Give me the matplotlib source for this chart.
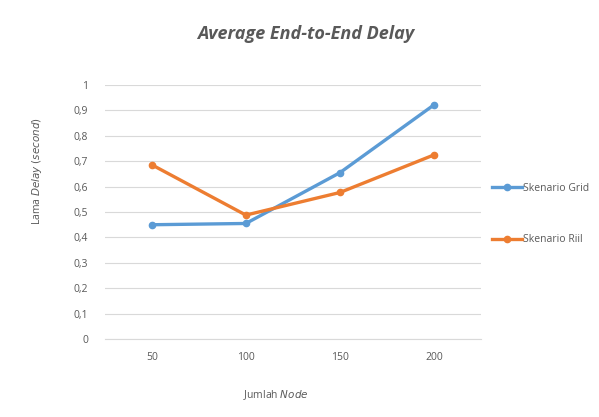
import matplotlib
matplotlib.use("Agg")
import matplotlib.pyplot as plt

categories = ["50", "100", "150", "200"]
grid_values = [0.45, 0.455, 0.655, 0.922]
riil_values = [0.686, 0.488, 0.577, 0.725]
y_ticks = [0, 0.1, 0.2, 0.3, 0.4, 0.5, 0.6, 0.7, 0.8, 0.9, 1]
y_tick_labels = ["0", "0,1", "0,2", "0,3", "0,4", "0,5", "0,6", "0,7", "0,8", "0,9", "1"]

plt.rcParams['font.family'] = ['Open Sans', 'DejaVu Sans']
text_color = "#595959"

fig = plt.figure(figsize=(5.99, 4.17), dpi=100)
ax = fig.add_axes([0.175, 0.187, 0.628, 0.609])

x = list(range(len(categories)))
blue = "#5B9BD5"
orange = "#ED7D31"
ax.plot(x, grid_values, color=blue, lw=2.4, marker="o", ms=4.5, label="Skenario Grid", zorder=3)
ax.plot(x, riil_values, color=orange, lw=2.4, marker="o", ms=4.5, label="Skenario Riil", zorder=3)

ax.set_xlim(-0.5, len(categories) - 0.5)
ax.set_ylim(0, 1)
ax.set_yticks(y_ticks)
ax.set_yticklabels(y_tick_labels)
ax.set_xticks(x)
ax.set_xticklabels(categories)
ax.grid(axis="y", color="#D9D9D9", lw=0.8)
ax.set_axisbelow(True)
for s in ["top", "right", "left"]:
    ax.spines[s].set_visible(False)
ax.spines["bottom"].set_color("#D9D9D9")
ax.spines["bottom"].set_linewidth(0.8)
ax.tick_params(axis="both", length=0, colors=text_color, labelsize=7.5)
ax.tick_params(axis="y", pad=12)
ax.tick_params(axis="x", pad=9)

fig.text(0.51, 0.918, "Average End-to-End Delay", ha="center", va="center",
         fontsize=13, style="italic", fontweight="bold", color=text_color)
fig.text(0.46, 0.053, "Jumlah $\\it{Node}$", ha="center", va="center",
         fontsize=7.5, color=text_color)
fig.text(0.062, 0.59, "Lama $\\it{Delay}$ $\\it{(second)}$", ha="center", va="center",
         rotation=90, fontsize=7.5, color=text_color)

leg = fig.legend(loc="center left", bbox_to_anchor=(0.805, 0.487), frameon=False,
                 fontsize=7.5, handlelength=2.9, handletextpad=0.1,
                 labelspacing=3.9, labelcolor=text_color)

fig.savefig("out.png", dpi=100)
